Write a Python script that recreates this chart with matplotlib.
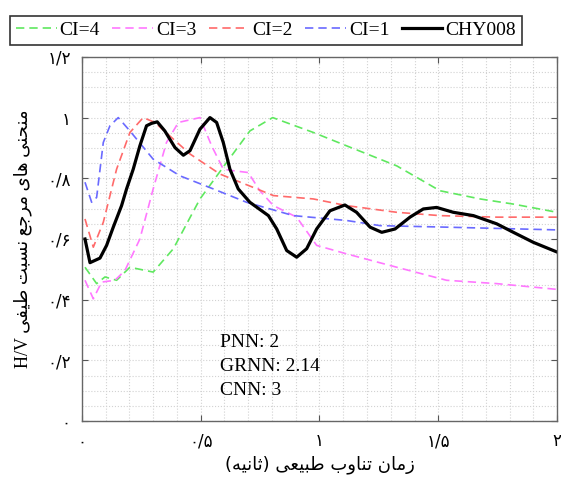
"""
Reference H/V spectral-ratio curves (CI classes) against station CHY008.
"""

import matplotlib
matplotlib.use('Agg')
import matplotlib.pyplot as plt
from matplotlib.ticker import MultipleLocator

# --- data ----------------------------------------------------------------
chy_x = [0.013, 0.034, 0.076, 0.104, 0.132, 0.167, 0.188, 0.216, 0.244,
         0.272, 0.293, 0.317, 0.349, 0.392, 0.427, 0.455, 0.497, 0.539,
         0.567, 0.595, 0.623, 0.658, 0.707, 0.785, 0.820, 0.862, 0.904,
         0.946, 0.988, 1.044, 1.107, 1.156, 1.213, 1.262, 1.318, 1.381,
         1.437, 1.493, 1.563, 1.648, 1.746, 1.816, 1.900, 2.0]
chy_y = [0.600, 0.522, 0.537, 0.579, 0.639, 0.710, 0.765, 0.830, 0.907,
         0.973, 0.981, 0.986, 0.956, 0.901, 0.876, 0.891, 0.962, 1.000,
         0.984, 0.918, 0.830, 0.765, 0.721, 0.677, 0.633, 0.562, 0.540,
         0.568, 0.633, 0.693, 0.712, 0.688, 0.639, 0.622, 0.633, 0.672,
         0.699, 0.704, 0.688, 0.677, 0.650, 0.622, 0.589, 0.557]

ci4_x = [0.013, 0.062, 0.097, 0.146, 0.202, 0.300, 0.385, 0.497, 0.609,
         0.707, 0.803, 0.974, 1.114, 1.325, 1.507, 1.676, 1.816, 2.0]
ci4_y = [0.507, 0.453, 0.475, 0.464, 0.507, 0.491, 0.568, 0.732, 0.852,
         0.956, 1.000, 0.951, 0.907, 0.841, 0.759, 0.732, 0.715, 0.688]

ci3_x = [0.013, 0.048, 0.083, 0.139, 0.181, 0.244, 0.300, 0.356, 0.406,
         0.497, 0.546, 0.595, 0.637, 0.700, 0.749, 0.806, 0.904, 0.988,
         1.114, 1.325, 1.535, 1.746, 2.0]
ci3_y = [0.464, 0.403, 0.458, 0.464, 0.496, 0.600, 0.765, 0.918, 0.984,
         1.000, 0.907, 0.830, 0.825, 0.819, 0.759, 0.710, 0.672, 0.579,
         0.551, 0.507, 0.464, 0.453, 0.434]

ci2_x = [0.013, 0.048, 0.090, 0.146, 0.202, 0.258, 0.307, 0.385, 0.455,
         0.581, 0.721, 0.806, 0.974, 1.114, 1.325, 1.507, 1.746, 2.0]
ci2_y = [0.666, 0.573, 0.655, 0.830, 0.951, 1.000, 0.984, 0.929, 0.880,
         0.814, 0.770, 0.743, 0.732, 0.710, 0.688, 0.677, 0.672, 0.672]

ci1_x = [0.013, 0.041, 0.062, 0.090, 0.118, 0.153, 0.202, 0.300, 0.413,
         0.553, 0.693, 0.890, 1.114, 1.255, 1.535, 2.0]
ci1_y = [0.787, 0.721, 0.737, 0.918, 0.973, 1.000, 0.956, 0.863, 0.808,
         0.765, 0.721, 0.677, 0.661, 0.644, 0.639, 0.630]

x_ticks = [0, 0.5, 1, 1.5, 2]
x_tick_labels = ['۰', '۰/۵', '۱', '۱/۵', '۲']
y_ticks = [0, 0.2, 0.4, 0.6, 0.8, 1.0, 1.2]
y_tick_labels = ['۰', '۰/۲', '۰/۴', '۰/۶', '۰/۸', '۱', '۱/۲']

scores = ['PNN: 2', 'GRNN: 2.14', 'CNN: 3']

# --- minimal Persian shaping (matplotlib does no contextual forms / RTL) --
# letter: (isolated, final, initial, medial); None -> does not join forward
FORMS = {
    'ا': (0xFE8D, 0xFE8E, None, None),
    'ب': (0xFE8F, 0xFE90, 0xFE91, 0xFE92),
    'ت': (0xFE95, 0xFE96, 0xFE97, 0xFE98),
    'ث': (0xFE99, 0xFE9A, 0xFE9B, 0xFE9C),
    'ج': (0xFE9D, 0xFE9E, 0xFE9F, 0xFEA0),
    'ح': (0xFEA1, 0xFEA2, 0xFEA3, 0xFEA4),
    'ر': (0xFEAD, 0xFEAE, None, None),
    'ز': (0xFEAF, 0xFEB0, None, None),
    'س': (0xFEB1, 0xFEB2, 0xFEB3, 0xFEB4),
    'ط': (0xFEC1, 0xFEC2, 0xFEC3, 0xFEC4),
    'ع': (0xFEC9, 0xFECA, 0xFECB, 0xFECC),
    'ف': (0xFED1, 0xFED2, 0xFED3, 0xFED4),
    'م': (0xFEE1, 0xFEE2, 0xFEE3, 0xFEE4),
    'ن': (0xFEE5, 0xFEE6, 0xFEE7, 0xFEE8),
    'ه': (0xFEE9, 0xFEEA, 0xFEEB, 0xFEEC),
    'و': (0xFEED, 0xFEEE, None, None),
    'ی': (0xFEEF, 0xFEF0, 0xFEF3, 0xFEF4),
}
MIRROR = {'(': ')', ')': '('}


def persian(text):
    """Shape Persian letters and return them in visual (left-to-right) order."""
    out = []
    for i, ch in enumerate(text):
        if ch not in FORMS:
            out.append(ch)
            continue
        prev = text[i - 1] if i > 0 else ''
        nxt = text[i + 1] if i + 1 < len(text) else ''
        join_prev = prev in FORMS and FORMS[prev][2] is not None
        join_next = nxt in FORMS and FORMS[ch][2] is not None
        iso, fin, ini, med = FORMS[ch]
        if join_prev and join_next:
            code = med
        elif join_prev:
            code = fin
        elif join_next:
            code = ini
        else:
            code = iso
        out.append(chr(code))
    return ''.join(MIRROR.get(c, c) for c in reversed(out))


plt.rcParams['font.family'] = ['Liberation Serif', 'DejaVu Sans']
plt.rcParams['font.size'] = 14

fig = plt.figure(figsize=(5.61, 4.78), dpi=100)
ax = fig.add_axes([0.146, 0.119, 0.847, 0.762])

dash = (0, (5, 3))
ax.plot(ci4_x, ci4_y, color='#5fe85f', lw=1.2, ls=dash, label='CI=4')
ax.plot(ci3_x, ci3_y, color='#ff78ff', lw=1.2, ls=dash, label='CI=3')
ax.plot(ci2_x, ci2_y, color='#ff6a6a', lw=1.2, ls=dash, label='CI=2')
ax.plot(ci1_x, ci1_y, color='#6a6aff', lw=1.2, ls=dash, label='CI=1')
ax.plot(chy_x, chy_y, color='black', lw=2.3, label='CHY008',
        solid_joinstyle='round')

ax.set_xlim(0, 2)
ax.set_ylim(0, 1.2)
ax.set_xticks(x_ticks)
ax.set_xticklabels(x_tick_labels, family='DejaVu Sans', fontsize=12)
ax.set_yticks(y_ticks)
ax.set_yticklabels(y_tick_labels, family='DejaVu Sans', fontsize=12)
ax.xaxis.set_minor_locator(MultipleLocator(0.1))
ax.yaxis.set_minor_locator(MultipleLocator(0.05))
ax.tick_params(which='major', direction='in', length=4, width=0.8,
               top=True, right=True, pad=8, color='#555555')
ax.tick_params(which='minor', length=0)
ax.grid(which='both', color='#d2d2d2', ls=':', lw=0.8)
ax.set_axisbelow(True)
for sp in ax.spines.values():
    sp.set_color('#666666')
    sp.set_linewidth(1.0)

ax.set_xlabel(persian('زمان تناوب طبیعی (ثانیه)'), family='DejaVu Sans',
              fontsize=13)
ax.xaxis.set_label_coords(0.5, -0.095)
ax.set_ylabel('H/V ' + persian('منحنی های مرجع نسبت طیفی'),
              family=['Liberation Serif', 'DejaVu Sans'], fontsize=13)
ax.yaxis.set_label_coords(-0.105, 0.5)

for i, s in enumerate(scores):
    ax.text(0.29, 0.217 - i * 0.066, s, transform=ax.transAxes,
            va='center', ha='left', fontsize=14)

leg = fig.legend(loc='lower left', ncol=5, mode='expand',
                 bbox_to_anchor=(0.018, 0.906, 0.912, 0.067),
                 fancybox=False, edgecolor='#333333', framealpha=1,
                 handlelength=2.1, handletextpad=0.15, columnspacing=0.9,
                 borderaxespad=0, borderpad=0.3, fontsize=14)
leg.get_frame().set_linewidth(1.2)

fig.savefig('out.png', dpi=100)
